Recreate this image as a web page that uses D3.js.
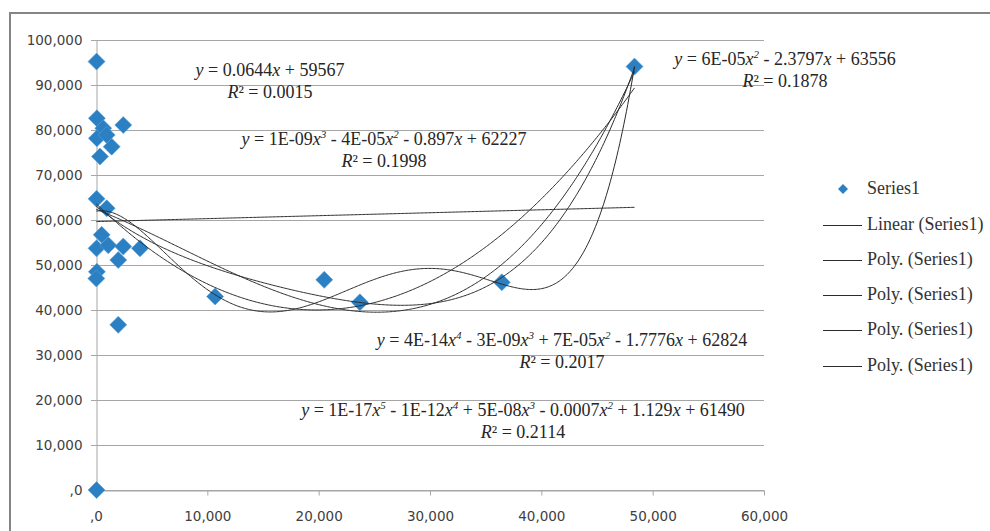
<!DOCTYPE html>
<html>
<head>
<meta charset="utf-8">
<script src="https://cdn.jsdelivr.net/npm/d3@7/dist/d3.min.js"></script>
<style>
    body { margin: 0; background: #fff; }
    .tick-label { font-family: "DejaVu Sans", sans-serif; font-size: 13.5px; fill: #404040; }
    .eq { font-family: "Liberation Serif", "Times New Roman", serif; font-size: 18px; fill: #262626; }
    .legend text { font-family: "Liberation Serif", "Times New Roman", serif; font-size: 18px; fill: #333; }
</style>
</head>
<body>
<div id="vis"></div>
<script>
// scatter values
let xValues = [50, 80, 2450, 650, 80, 960, 1410, 360, 50, 960, 510, 50, 1100, 2450, 2000,
               3950, 80, 30, 2000, 10700, 20500, 23700, 36450, 48370, 50];
let yValues = [95200, 82600, 81100, 80400, 78150, 78900, 76300, 74100, 64700, 62600, 56700,
               53700, 54400, 54100, 51100, 53700, 48500, 47000, 36700, 43000, 46700, 41700,
               46150, 94100, 0];

let xTicks = [0, 10000, 20000, 30000, 40000, 50000, 60000];
let yTicks = [0, 10000, 20000, 30000, 40000, 50000, 60000, 70000, 80000, 90000, 100000];

// trendline orders: linear, then poly 2..5
let trendOrders = [1, 2, 3, 4, 5];
let legendLabels = ['Series1', 'Linear (Series1)', 'Poly. (Series1)', 'Poly. (Series1)',
                    'Poly. (Series1)', 'Poly. (Series1)'];

let equations = [
    'y = 0.0644x + 59567',
    'y = 6E-05x^2 - 2.3797x + 63556',
    'y = 1E-09x^3 - 4E-05x^2 - 0.897x + 62227',
    'y = 4E-14x^4 - 3E-09x^3 + 7E-05x^2 - 1.7776x + 62824',
    'y = 1E-17x^5 - 1E-12x^4 + 5E-08x^3 - 0.0007x^2 + 1.129x + 61490'
];
let rSquared = ['0.0015', '0.1878', '0.1998', '0.2017', '0.2114'];

// where Excel left the labels (centre x, baseline of first line)
let labelPos = [[270, 76], [785, 65], [384, 145], [562, 346], [523, 416]];

let width = 990, height = 531;
let margin = {top: 40, right: 226, bottom: 41, left: 96};

let svg = d3.select('#vis')
    .append('svg')
    .attr('width', width)
    .attr('height', height);

// chart border (only top and left show in the crop)
svg.append('path')
    .attr('d', 'M10,' + height + 'V13H' + width)
    .attr('fill', 'none')
    .attr('stroke', '#858585')
    .attr('stroke-width', 2);

let xScale = d3.scaleLinear()
    .domain([0, 60000])
    .range([margin.left, width - margin.right]);

let yScale = d3.scaleLinear()
    .domain([0, 100000])
    .range([height - margin.bottom, margin.top]);

let fmt = function(v) {
    return v === 0 ? ',0' : d3.format(',')(v);
};

// gridlines
svg.append('g')
    .selectAll('line')
    .data(yTicks)
    .enter()
    .append('line')
    .attr('x1', margin.left - 5)
    .attr('x2', xScale(60000))
    .attr('y1', d => Math.round(yScale(d)) + 0.5)
    .attr('y2', d => Math.round(yScale(d)) + 0.5)
    .attr('stroke', '#a6a6a6');

// axes
let xAxis = d3.axisBottom(xScale)
    .tickValues(xTicks)
    .tickFormat(fmt)
    .tickSize(5)
    .tickSizeOuter(0);

let yAxis = d3.axisLeft(yScale)
    .tickValues(yTicks)
    .tickFormat(fmt)
    .tickSize(0)
    .tickSizeOuter(0);

let gx = svg.append('g')
    .attr('transform', 'translate(0,' + (Math.round(yScale(0)) + 0.5) + ')')
    .call(xAxis);
gx.select('.domain').attr('stroke', '#a6a6a6');
gx.selectAll('.tick line').attr('stroke', '#a6a6a6');
gx.selectAll('.tick text')
    .attr('class', 'tick-label')
    .attr('dy', null)
    .attr('y', 30)
    .attr('font-family', null)
    .attr('font-size', null);

let gy = svg.append('g')
    .attr('transform', 'translate(' + (Math.round(xScale(0)) + 0.5) + ',0)')
    .call(yAxis);
gy.select('.domain').attr('stroke', '#a6a6a6');
gy.selectAll('.tick text')
    .attr('class', 'tick-label')
    .attr('x', -14)
    .attr('font-family', null)
    .attr('font-size', null);

// markers
let diamond = function(r) {
    return 'M0,' + (-r) + 'L' + r + ',0L0,' + r + 'L' + (-r) + ',0Z';
};

let points = xValues.map((x, i) => ({x: x, y: yValues[i]}));

svg.append('g')
    .selectAll('path')
    .data(points)
    .enter()
    .append('path')
    .attr('d', diamond(8.5))
    .attr('transform', d => 'translate(' + xScale(d.x) + ',' + yScale(d.y) + ')')
    .attr('fill', '#2a80c2')
    .attr('stroke', '#5aa0d6')
    .attr('stroke-width', 0.6);

// least squares polynomial fit (x scaled to keep the matrix sane)
function polyFit(xs, ys, order) {
    let s = 50000;
    let n = order + 1;
    let A = [];
    for (let r = 0; r < n; r++) {
        A.push(new Array(n + 1).fill(0));
    }
    xs.forEach((xv, k) => {
        let t = xv / s;
        for (let r = 0; r < n; r++) {
            for (let c = 0; c < n; c++) {
                A[r][c] += Math.pow(t, r + c);
            }
            A[r][n] += Math.pow(t, r) * ys[k];
        }
    });
    for (let c = 0; c < n; c++) {
        let p = c;
        for (let r = c + 1; r < n; r++) {
            if (Math.abs(A[r][c]) > Math.abs(A[p][c])) p = r;
        }
        [A[c], A[p]] = [A[p], A[c]];
        for (let r = c + 1; r < n; r++) {
            let f = A[r][c] / A[c][c];
            for (let k = c; k <= n; k++) A[r][k] -= f * A[c][k];
        }
    }
    let coef = new Array(n).fill(0);
    for (let r = n - 1; r >= 0; r--) {
        let v = A[r][n];
        for (let k = r + 1; k < n; k++) v -= A[r][k] * coef[k];
        coef[r] = v / A[r][r];
    }
    return function(xv) {
        let t = xv / s, v = 0;
        for (let k = n - 1; k >= 0; k--) v = v * t + coef[k];
        return v;
    };
}

let xMin = d3.min(xValues), xMax = d3.max(xValues);
let line = d3.line()
    .x(d => xScale(d[0]))
    .y(d => yScale(d[1]));

trendOrders.forEach(order => {
    let f = polyFit(xValues, yValues, order);
    let pts = d3.range(0, 401).map(i => {
        let xv = xMin + (xMax - xMin) * i / 400;
        return [xv, f(xv)];
    });
    svg.append('path')
        .attr('d', line(pts))
        .attr('fill', 'none')
        .attr('stroke', '#2b2b2b')
        .attr('stroke-width', 1);
});

// equation labels, italic variables and raised powers
function writeEquation(textSel, str) {
    let parts = str.match(/x\^\d|[xy]|[^xy]+/g);
    let shift = 0;
    parts.forEach(p => {
        if (p === 'x' || p === 'y') {
            textSel.append('tspan').attr('font-style', 'italic')
                .attr('dy', shift || null).text(p);
            shift = 0;
        } else if (p.startsWith('x^')) {
            textSel.append('tspan').attr('font-style', 'italic')
                .attr('dy', shift || null).text('x');
            textSel.append('tspan').attr('font-style', 'italic')
                .attr('font-size', '11px').attr('dy', -7).text(p.slice(2));
            shift = 7;
        } else {
            textSel.append('tspan').attr('dy', shift || null).text(p);
            shift = 0;
        }
    });
}

equations.forEach((eq, i) => {
    let g = svg.append('g').attr('class', 'eq');
    let t1 = g.append('text')
        .attr('x', labelPos[i][0])
        .attr('y', labelPos[i][1])
        .attr('text-anchor', 'middle');
    writeEquation(t1, eq);

    let t2 = g.append('text')
        .attr('x', labelPos[i][0])
        .attr('y', labelPos[i][1] + 22)
        .attr('text-anchor', 'middle');
    t2.append('tspan').attr('font-style', 'italic').text('R');
    t2.append('tspan').text('\u00b2 = ' + rSquared[i]);
});

// legend
let legendRows = [189, 225, 260, 295, 330, 366];
let legend = svg.append('g').attr('class', 'legend');

legendLabels.forEach((lab, i) => {
    let yPos = legendRows[i];
    if (i === 0) {
        legend.append('path')
            .attr('d', diamond(5))
            .attr('transform', 'translate(843,' + yPos + ')')
            .attr('fill', '#2a80c2');
    } else {
        legend.append('line')
            .attr('x1', 823).attr('x2', 862)
            .attr('y1', yPos + 0.5).attr('y2', yPos + 0.5)
            .attr('stroke', '#2b2b2b');
    }
    legend.append('text')
        .attr('x', 867)
        .attr('y', yPos + 5)
        .text(lab);
});
</script>
</body>
</html>
